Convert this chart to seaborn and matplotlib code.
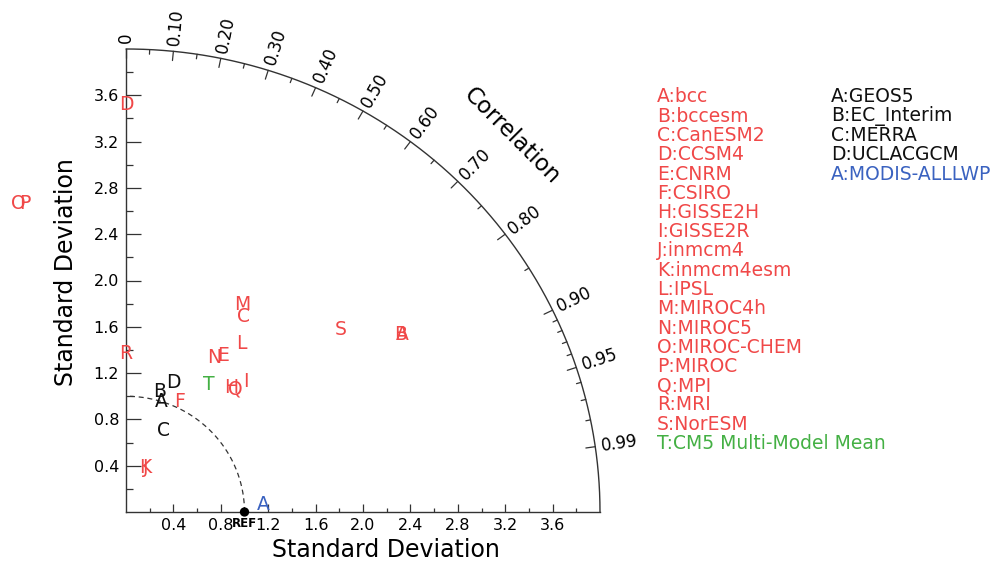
import numpy as np
import pandas as pd
import matplotlib
matplotlib.use("Agg")
import matplotlib.pyplot as plt
import matplotlib.transforms as mtransforms
import seaborn as sns

# ---------------- data ----------------
# CMIP5 models (red): letter, x = std*corr, y = std*sqrt(1-corr^2)
red_letters = ['D', 'O', 'P', 'R', 'M', 'C', 'L', 'N', 'E', 'H', 'I', 'Q', 'F', 'J', 'K', 'S', 'A', 'B']
red_x = [0.00, -0.905, -0.85, 0.00, 0.985, 0.99, 0.975, 0.745, 0.815, 0.89, 1.01, 0.92, 0.45, 0.165, 0.165, 1.81, 2.33, 2.32]
red_y = [3.53, 2.68, 2.68, 1.385, 1.80, 1.70, 1.47, 1.35, 1.365, 1.09, 1.14, 1.07, 0.97, 0.40, 0.40, 1.59, 1.545, 1.545]

# reanalyses (black)
black_letters = ['A', 'B', 'C', 'D']
black_x = [0.30, 0.28, 0.315, 0.40]
black_y = [0.97, 1.05, 0.715, 1.13]

# multi-model mean (green)
green_letters = ['T']
green_x = [0.70]
green_y = [1.11]

# observations (blue)
blue_letters = ['A']
blue_x = [1.16]
blue_y = [0.08]

ref_std = 1.0

legend_red = ['A:bcc', 'B:bccesm', 'C:CanESM2', 'D:CCSM4', 'E:CNRM', 'F:CSIRO', 'H:GISSE2H',
              'I:GISSE2R', 'J:inmcm4', 'K:inmcm4esm', 'L:IPSL', 'M:MIROC4h', 'N:MIROC5',
              'O:MIROC-CHEM', 'P:MIROC', 'Q:MPI', 'R:MRI', 'S:NorESM']
legend_green = ['T:CM5 Multi-Model Mean']
legend_black = ['A:GEOS5', 'B:EC_Interim', 'C:MERRA', 'D:UCLACGCM']
legend_blue = ['A:MODIS-ALLLWP']

std_ticks = [0.4, 0.8, 1.2, 1.6, 2.0, 2.4, 2.8, 3.2, 3.6]
std_minor = [0.2, 0.6, 1.0, 1.4, 1.8, 2.2, 2.6, 3.0, 3.4, 3.8]
corr_major = [0.0, 0.1, 0.2, 0.3, 0.4, 0.5, 0.6, 0.7, 0.8, 0.9, 0.95, 0.99]
corr_labels = ['0', '0.10', '0.20', '0.30', '0.40', '0.50', '0.60', '0.70', '0.80', '0.90', '0.95', '0.99']
corr_minor = [0.05, 0.15, 0.25, 0.35, 0.45, 0.55, 0.65, 0.75, 0.85, 0.91, 0.92, 0.93, 0.94, 0.96, 0.97, 0.98]
std_max = 4.0

RED = '#f04848'
BLACK = '#111111'
GREEN = '#44b044'
BLUE = '#3a62c0'
LINE = '#333333'

# ---------------- figure ----------------
sns.set_theme(style="white")
plt.rcParams['font.family'] = ['DejaVu Sans']
plt.rcParams['text.color'] = 'black'

W, H = 997, 564
fig = plt.figure(figsize=(W / 100, H / 100), dpi=100)
ax = fig.add_axes([126 / W, 52 / H, 474 / W, 463 / H])

# outer arc
th = np.linspace(0, np.pi / 2, 300)
arc = pd.DataFrame({'x': std_max * np.cos(th), 'y': std_max * np.sin(th)})
sns.lineplot(data=arc, x='x', y='y', sort=False, ax=ax, color=LINE, lw=1.0, clip_on=False)

# dashed reference circle
ref_arc = pd.DataFrame({'x': ref_std * np.cos(th), 'y': ref_std * np.sin(th)})
sns.lineplot(data=ref_arc, x='x', y='y', sort=False, ax=ax, color=LINE, lw=0.9,
             linestyle=(0, (4, 3)), clip_on=False)

ax.set(xlabel='', ylabel='')
ax.set_xlim(0, std_max)
ax.set_ylim(0, std_max)
for s in ['top', 'right']:
    ax.spines[s].set_visible(False)
for s in ['left', 'bottom']:
    ax.spines[s].set_color(LINE)
    ax.spines[s].set_linewidth(1.0)

ax.set_xticks(std_ticks)
ax.set_xticklabels([f"{v:.1f}" for v in std_ticks])
ax.set_yticks(std_ticks)
ax.set_yticklabels([f"{v:.1f}" for v in std_ticks])
ax.set_xticks(std_minor, minor=True)
ax.set_yticks(std_minor, minor=True)
ax.tick_params(axis='x', which='major', direction='in', length=6, width=0.9, color=LINE,
               labelsize=11.5, pad=4, labelcolor='black', bottom=True)
ax.tick_params(axis='x', which='minor', direction='in', length=3, width=0.9, color=LINE, bottom=True)
ax.tick_params(axis='y', which='major', direction='in', length=11, width=0.9, color=LINE,
               labelsize=11.5, pad=5, labelcolor='black', left=True)
ax.tick_params(axis='y', which='minor', direction='in', length=5, width=0.9, color=LINE, left=True)

# correlation ticks and labels
for c, lab in zip(corr_major, corr_labels):
    t = np.arccos(c)
    r0, r1 = std_max - 0.08, std_max
    ax.plot([r0 * np.cos(t), r1 * np.cos(t)], [r0 * np.sin(t), r1 * np.sin(t)], color=LINE, lw=0.9, clip_on=False)
    rl = std_max + 0.05
    ax.text(rl * np.cos(t), rl * np.sin(t), lab, rotation=np.degrees(t), rotation_mode='anchor',
            ha='left', va='center', fontsize=12, color='black', clip_on=False)
for c in corr_minor:
    t = np.arccos(c)
    r0, r1 = std_max - 0.04, std_max
    ax.plot([r0 * np.cos(t), r1 * np.cos(t)], [r0 * np.sin(t), r1 * np.sin(t)], color=LINE, lw=0.9, clip_on=False)

ax.text(std_max * 1.15 * np.cos(np.radians(45)), std_max * 1.15 * np.sin(np.radians(45)), 'Correlation',
        rotation=-45, rotation_mode='anchor', ha='center', va='center', fontsize=16.5, color='black')

# REF point
sns.scatterplot(x=[ref_std], y=[0.0], ax=ax, color='black', s=45, edgecolor='none', clip_on=False, zorder=5)
ax.text(ref_std, -0.04, 'REF', ha='center', va='top', fontsize=8.5, fontweight='bold', color='black')

# letter markers
FS = 13.5
off = mtransforms.offset_copy(ax.transData, fig=fig, x=0, y=-0.365 * FS, units='points')


def put_letters(letters, xs, ys, color):
    for l, x, y in zip(letters, xs, ys):
        ax.text(x, y, l, transform=off, ha='center', va='baseline', fontsize=FS, color=color, clip_on=False)


put_letters(red_letters, red_x, red_y, RED)
put_letters(black_letters, black_x, black_y, BLACK)
put_letters(green_letters, green_x, green_y, GREEN)
put_letters(blue_letters, blue_x, blue_y, BLUE)

# axis labels
fig.text(386 / W, 1 - 550 / H, 'Standard Deviation', ha='center', va='center', fontsize=17, color='black')
fig.text(66 / W, 1 - 272 / H, 'Standard Deviation', ha='center', va='center', fontsize=17, rotation=90,
         color='black')

# legend text
y0, dy = 97, 19.25
col1 = legend_red + legend_green
cols1 = [RED] * len(legend_red) + [GREEN] * len(legend_green)
for i, (t, c) in enumerate(zip(col1, cols1)):
    fig.text(657 / W, 1 - (y0 + i * dy) / H, t, ha='left', va='center', fontsize=13.5, color=c)
col2 = legend_black + legend_blue
cols2 = [BLACK] * len(legend_black) + [BLUE] * len(legend_blue)
for i, (t, c) in enumerate(zip(col2, cols2)):
    fig.text(831 / W, 1 - (y0 + i * dy) / H, t, ha='left', va='center', fontsize=13.5, color=c)

fig.savefig('out.png', dpi=100)
